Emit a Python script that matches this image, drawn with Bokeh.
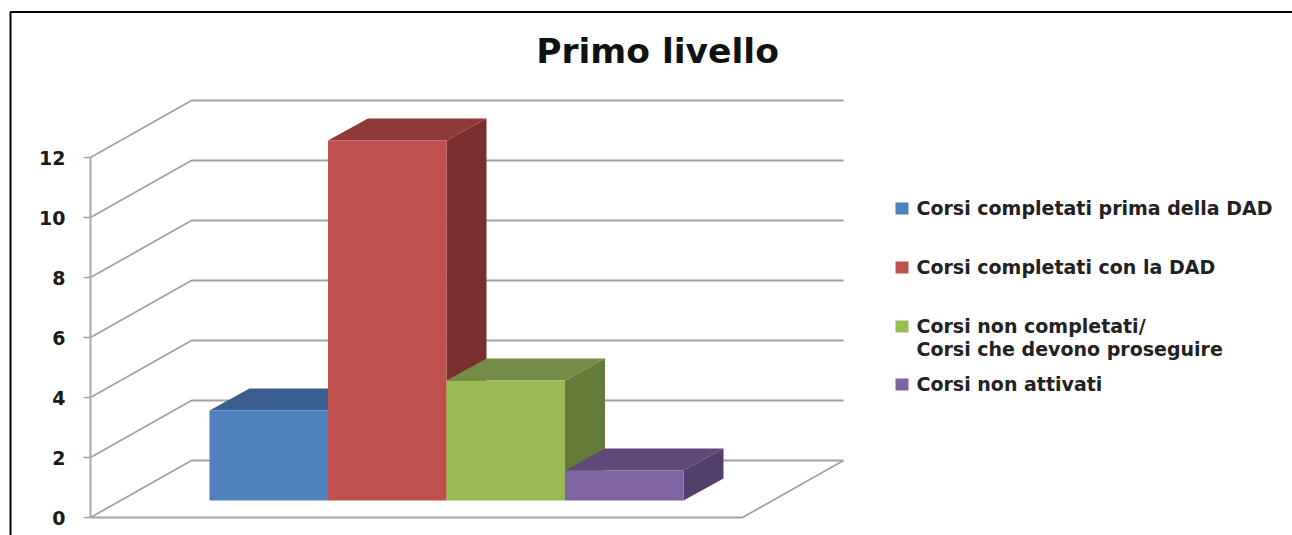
from bokeh.plotting import figure
from bokeh.models import Range1d, FixedTicker
from bokeh.core.properties import value
from bokeh.embed import file_html
from bokeh.resources import INLINE

title_text = "Primo livello"
categories = ["Corsi completati prima della DAD", "Corsi completati con la DAD",
              "Corsi non completati/\nCorsi che devono proseguire", "Corsi non attivati"]
values = [3, 12, 4, 1]
ticks = [0, 2, 4, 6, 8, 10, 12]
front_colors = ["#4F81BD", "#C0504D", "#9BBB59", "#8064A2"]
top_colors = ["#3A5F8F", "#8E3A38", "#748C43", "#5F4A79"]
side_colors = ["#34557F", "#7B2F2D", "#667B3A", "#523F6C"]
legend_y_px = [208, 267, 326, 384]
legend_text_y_px = [207, 266, 337, 383]

W, H = 1292, 535
PAGE_TOP, PAGE_LEFT = 0, 0
Y0_PX, PX_PER_UNIT = 517, 30.0

def vy(py):
    return (Y0_PX - py) / PX_PER_UNIT

p = figure(width=W, height=H, output_backend="svg", toolbar_location=None,
           x_range=Range1d(PAGE_LEFT, PAGE_LEFT + W),
           y_range=Range1d(vy(PAGE_TOP + H), vy(PAGE_TOP)),
           min_border=0, min_border_left=0, min_border_right=0, min_border_top=0, min_border_bottom=0,
           outline_line_color=None, background_fill_color="white", border_fill_color="white")
p.grid.visible = False
p.xaxis.visible = False

# outer black frame (top and left only)
p.line([10, 10, PAGE_LEFT + W], [vy(PAGE_TOP + H), vy(11.5), vy(11.5)], line_color="black", line_width=2)

# walls and floor
GRID = "#a3a3a3"
AX_X, BACK_X, BACK_END, FLOOR_END = 90, 191, 843, 742
DEPTH_UP = 57 / PX_PER_UNIT
xs, ys = [], []
for t in ticks:
    xs.append([AX_X, BACK_X, BACK_END])
    ys.append([t, t + DEPTH_UP, t + DEPTH_UP])
p.multi_line(xs, ys, line_color=GRID, line_width=1.8)
p.line([AX_X, FLOOR_END, BACK_END], [0, 0, DEPTH_UP], line_color=GRID, line_width=1.8)

# bars
BAR_X0, BAR_W = 209, 118.5
BAR_BASE = vy(500)
DX, DY = 40, 22 / PX_PER_UNIT
for i, v in enumerate(values):
    x0 = BAR_X0 + i * BAR_W
    x1 = x0 + BAR_W
    top = BAR_BASE + v
    p.patch([x0, x1, x1 + DX, x0 + DX], [top, top, top + DY, top + DY], fill_color=top_colors[i], line_color=None)
    p.patch([x1, x1 + DX, x1 + DX, x1], [BAR_BASE, BAR_BASE + DY, top + DY, top], fill_color=side_colors[i], line_color=None)
    p.quad(left=x0, right=x1, bottom=BAR_BASE, top=top, fill_color=front_colors[i], line_color=None)

# y axis inside the frame
ax = p.yaxis[0]
ax.fixed_location = AX_X
ax.bounds = (0, 12)
ax.ticker = FixedTicker(ticks=ticks)
ax.minor_tick_line_color = None
ax.axis_line_color = "#a8a8a8"
ax.axis_line_width = 2
ax.major_tick_line_color = "#a3a3a3"
ax.major_tick_line_width = 1.5
ax.major_tick_in = 0
ax.major_tick_out = 7
ax.major_label_standoff = 18
ax.major_label_text_font = "DejaVu Sans"
ax.major_label_text_font_style = "bold"
ax.major_label_text_font_size = "19px"
ax.major_label_text_color = "#1a1a1a"

# title
p.text([657], [vy(50)], text=[title_text], text_font=value("DejaVu Sans"), text_font_style="bold",
       text_font_size="34.5px", text_align="center", text_baseline="middle", text_color="#111111")

# legend
for c, c_y, t_y, col in zip(categories, legend_y_px, legend_text_y_px, front_colors):
    p.quad(left=895, right=908, bottom=vy(c_y + 6), top=vy(c_y - 6), fill_color=col, line_color=None)
    p.text([916], [vy(t_y)], text=[c], text_font=value("DejaVu Sans"), text_font_size="19px",
           text_font_style="bold", text_align="left", text_baseline="middle", text_color="#222222",
           text_line_height=1.03)

open("out.html", "w").write(file_html(p, INLINE))
